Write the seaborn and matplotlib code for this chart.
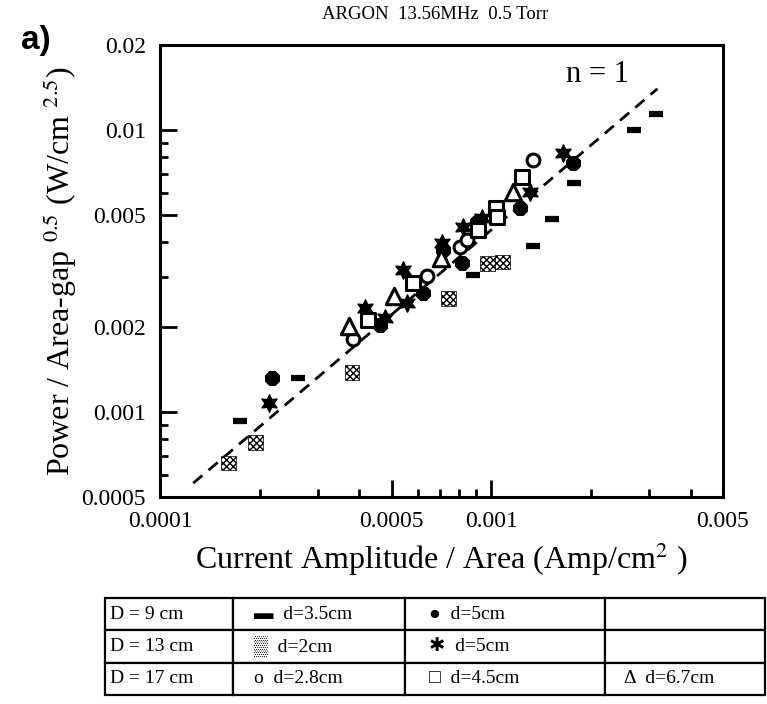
import numpy as np
import pandas as pd
import matplotlib
matplotlib.use("Agg")
import matplotlib.pyplot as plt
from matplotlib.ticker import FixedLocator, FixedFormatter, NullFormatter
import seaborn as sns

# data (current density A/cm^2, power density)
d9_35_x = [1.74e-4, 2.61e-4, 8.82e-4, 1.34e-3, 1.52e-3, 1.77e-3, 2.69e-3, 3.13e-3]
d9_35_y = [9.28e-4, 1.32e-3, 3.06e-3, 3.87e-3, 4.83e-3, 6.48e-3, 9.99e-3, 1.14e-2]

d13_2_x = [1.61e-4, 1.94e-4, 3.80e-4, 7.41e-4, 9.72e-4, 1.08e-3]
d13_2_y = [6.59e-4, 7.82e-4, 1.38e-3, 2.53e-3, 3.37e-3, 3.40e-3]

d9_5_x = [2.18e-4, 4.62e-4, 6.23e-4, 7.16e-4, 8.17e-4, 9.07e-4, 1.22e-3, 1.76e-3]
d9_5_y = [1.32e-3, 2.03e-3, 2.64e-3, 3.75e-3, 3.37e-3, 4.71e-3, 5.28e-3, 7.63e-3]

d13_5_x = [2.13e-4, 4.16e-4, 4.78e-4, 5.42e-4, 5.57e-4, 7.11e-4, 8.23e-4, 9.39e-4, 1.31e-3, 1.65e-3]
d13_5_y = [1.08e-3, 2.34e-3, 2.15e-3, 3.18e-3, 2.43e-3, 3.97e-3, 4.52e-3, 4.87e-3, 6.02e-3, 8.28e-3]

d17_28_x = [3.83e-4, 6.41e-4, 8.06e-4, 8.46e-4, 1.34e-3]
d17_28_y = [1.81e-3, 3.03e-3, 3.84e-3, 4.07e-3, 7.82e-3]

d17_45_x = [4.25e-4, 5.81e-4, 9.14e-4, 1.03e-3, 1.04e-3, 1.24e-3]
d17_45_y = [2.12e-3, 2.86e-3, 4.42e-3, 5.28e-3, 4.91e-3, 6.81e-3]

d17_67_x = [3.72e-4, 5.09e-4, 7.06e-4, 1.16e-3]
d17_67_y = [2.02e-3, 2.58e-3, 3.51e-3, 6.02e-3]

# n = 1 fit line
fit_x = [1.26e-4, 3.17e-3]
fit_y = [5.6e-4, 1.40e-2]

xticks = [1e-4, 5e-4, 1e-3, 5e-3]
xticklabels = ["0.0001", "0.0005", "0.001", "0.005"]
yticks = [5e-4, 1e-3, 2e-3, 5e-3, 1e-2, 2e-2]
yticklabels = ["0.0005", "0.001", "0.002", "0.005", "0.01", "0.02"]

table_rows = [
    ["D = 9 cm", "\u25AC  d=3.5cm", "\u25CF  d=5cm", ""],
    ["D = 13 cm", "\u2592  d=2cm", "\u2731  d=5cm", ""],
    ["D = 17 cm", "o  d=2.8cm", "\u25A1  d=4.5cm", "\u0394  d=6.7cm"],
]

sns.set_style("ticks")
plt.rcParams["font.family"] = ["Liberation Serif", "DejaVu Sans"]
plt.rcParams["mathtext.fontset"] = "stix"
plt.rcParams["text.color"] = "black"
plt.rcParams["axes.labelcolor"] = "black"
plt.rcParams["xtick.color"] = "black"
plt.rcParams["ytick.color"] = "black"

fig = plt.figure(figsize=(7.67, 7.04), dpi=100)
ax = fig.add_axes([0.2086, 0.294, 0.734, 0.642])
ax.set_xscale("log")
ax.set_yscale("log")

sns.lineplot(x=fit_x, y=fit_y, ax=ax, color="black", lw=2,
             dashes=False, linestyle=(0, (4.3, 2.9)))

sns.scatterplot(x=d9_35_x, y=d9_35_y, ax=ax, marker="_", s=110,
                color="black", linewidth=4.5, zorder=3)
sns.scatterplot(x=d13_2_x, y=d13_2_y, ax=ax, marker="s", s=110,
                facecolor="white", edgecolor="black", hatch="xxxxx",
                linewidth=0.5, zorder=3)
sns.scatterplot(x=d9_5_x, y=d9_5_y, ax=ax, marker="8", s=115,
                color="black", edgecolor="black", zorder=3)
sns.scatterplot(x=d13_5_x, y=d13_5_y, ax=ax, marker=(6, 1, 0), s=150,
                color="black", edgecolor="black", linewidth=1.2, zorder=3)
sns.scatterplot(x=d17_28_x, y=d17_28_y, ax=ax, marker="o", s=85,
                facecolor="white", edgecolor="black", linewidth=2.2, zorder=4)
sns.scatterplot(x=d17_45_x, y=d17_45_y, ax=ax, marker="s", s=95,
                facecolor="white", edgecolor="black", linewidth=2.2, zorder=4)
sns.scatterplot(x=d17_67_x, y=d17_67_y, ax=ax, marker="^", s=140,
                facecolor="white", edgecolor="black", linewidth=2.2, zorder=4)

ax.set_xlim(1e-4, 5e-3)
ax.set_ylim(5e-4, 2e-2)
ax.xaxis.set_major_locator(FixedLocator(xticks))
ax.xaxis.set_major_formatter(FixedFormatter(xticklabels))
ax.xaxis.set_minor_formatter(NullFormatter())
ax.yaxis.set_major_locator(FixedLocator(yticks))
ax.yaxis.set_major_formatter(FixedFormatter(yticklabels))
ax.yaxis.set_minor_formatter(NullFormatter())
ax.tick_params(which="both", direction="in", top=False, right=False,
               width=2, labelsize=17, pad=10, colors="black")
ax.tick_params(which="major", length=12)
ax.tick_params(which="minor", length=6)
for sp in ax.spines.values():
    sp.set_visible(True)
    sp.set_linewidth(2.2)
    sp.set_color("black")

ax.set_xlabel("Current Amplitude / Area (Amp/cm$^{2}$ )", fontsize=23, labelpad=6)
ax.set_ylabel("Power / Area-gap $^{0.5}$ (W/cm $^{2.5}$)", fontsize=23, labelpad=2)
ax.text(2.09e-3, 1.57e-2, "n = 1", fontsize=22, ha="center", va="center")

fig.text(0.567, 0.979, "ARGON  13.56MHz  0.5 Torr", fontsize=13.5,
         ha="center", va="center")
fig.text(0.047, 0.942, "a)", fontsize=24, fontweight="bold",
         family="Liberation Sans", ha="center", va="center")

widths = np.array([128, 172, 200, 160]) / 563
tab = ax.table(cellText=table_rows, cellLoc="left", colWidths=list(widths),
               bbox=[-0.0977, -0.438, 1.172, 0.2145])
tab.auto_set_font_size(False)
for (r, c), cell in tab.get_celld().items():
    cell.set_linewidth(1.6)
    cell.set_edgecolor("black")
    cell.get_text().set_fontsize(14)
    cell.get_text().set_fontfamily(["Liberation Serif", "DejaVu Sans"])
    cell.get_text().set_color("black")
    cell.PAD = 0.04 if c == 0 else 0.12

fig.savefig("out.png", dpi=100)
